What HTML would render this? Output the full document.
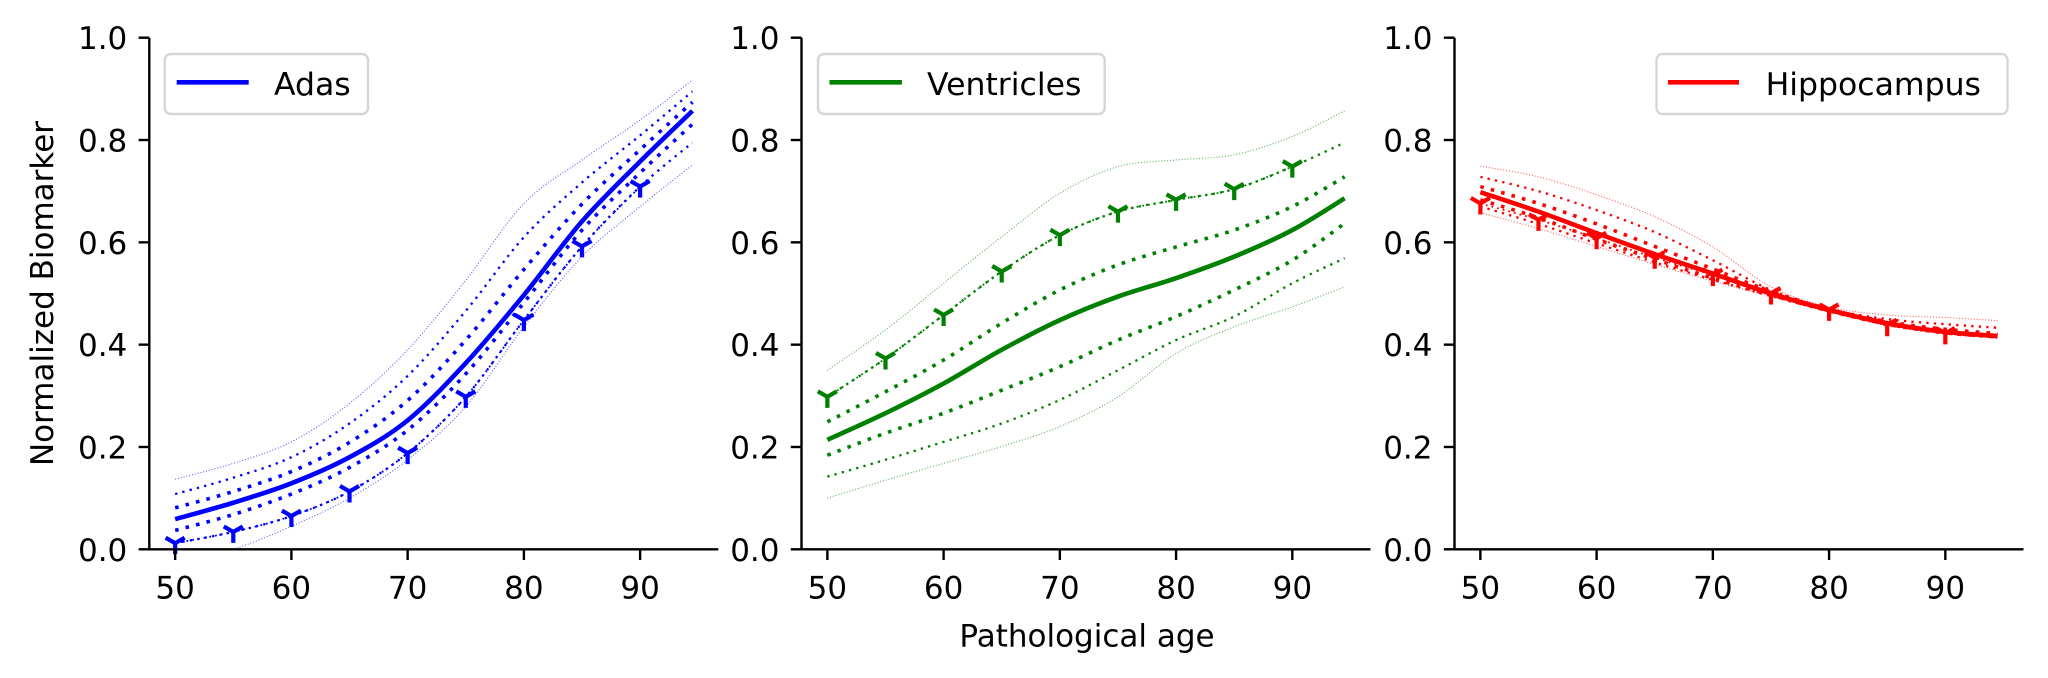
<!DOCTYPE html>
<html><head><meta charset="utf-8">
<style>
html,body{margin:0;padding:0;background:#fff;}
svg{display:block;font-family:"DejaVu Sans","Liberation Sans",sans-serif;}
</style></head>
<body>
<svg id="chart" width="2048" height="678" viewBox="0 0 2048 678" xmlns="http://www.w3.org/2000/svg">
<text x="53" y="293.5" transform="rotate(-90 53 293.5)" text-anchor="middle" font-size="31" fill="#000">Normalized Biomarker</text>
<text x="1087" y="646.5" text-anchor="middle" font-size="31" fill="#000">Pathological age</text>
</svg>
<script>
// shared x grid for curves
const xGrid = [50,55,60,65,70,75,80,85,90,94.5];
const markerX = [50,55,60,65,70,75,80,85,90];
const xTicks = [50,60,70,80,90];
const yTicks = [0.0,0.2,0.4,0.6,0.8,1.0];
const yTickLabels = ["0.0","0.2","0.4","0.6","0.8","1.0"];
const xTickLabels = ["50","60","70","80","90"];
const seriesNames = ["Adas","Ventricles","Hippocampus"];
const seriesColors = ["#0000ff","#008000","#ff0000"];

// Adas
const adasMean     = [0.059,0.091,0.129,0.180,0.252,0.364,0.497,0.641,0.758,0.857];
const adasOuterUp  = [0.137,0.168,0.210,0.285,0.390,0.526,0.676,0.761,0.839,0.917];
const adasMidUp    = [0.108,0.140,0.180,0.246,0.339,0.466,0.610,0.717,0.809,0.895];
const adasInnerUp  = [0.081,0.113,0.152,0.209,0.291,0.409,0.547,0.675,0.781,0.874];
const adasInnerLow = [0.037,0.068,0.108,0.160,0.233,0.343,0.482,0.624,0.736,0.831];
const adasMidLow   = [0.012,0.034,0.065,0.113,0.188,0.298,0.448,0.592,0.709,0.795];
const adasOuterLow = [-0.03,0.000,0.045,0.100,0.175,0.279,0.435,0.572,0.670,0.751];
const adasMarkers  = [0.012,0.034,0.065,0.113,0.188,0.298,0.448,0.592,0.709];

// Ventricles
const ventMean     = [0.214,0.266,0.324,0.390,0.448,0.494,0.530,0.572,0.624,0.686];
const ventOuterUp  = [0.350,0.429,0.520,0.611,0.696,0.748,0.761,0.771,0.807,0.857];
const ventMidUp    = [0.298,0.373,0.458,0.543,0.614,0.660,0.683,0.704,0.748,0.795];
const ventInnerUp  = [0.249,0.308,0.370,0.442,0.507,0.556,0.591,0.624,0.670,0.728];
const ventInnerLow = [0.184,0.227,0.266,0.311,0.357,0.409,0.455,0.507,0.565,0.637];
const ventMidLow   = [0.142,0.175,0.210,0.246,0.292,0.350,0.409,0.455,0.520,0.569];
const ventOuterLow = [0.100,0.135,0.168,0.201,0.240,0.298,0.383,0.435,0.474,0.513];
const ventMarkers  = [0.298,0.373,0.458,0.543,0.614,0.660,0.683,0.704,0.748];

// Hippocampus
const hippoMean     = [0.698,0.660,0.618,0.577,0.539,0.500,0.468,0.442,0.425,0.417];
const hippoOuterUp  = [0.749,0.728,0.693,0.650,0.591,0.513,0.474,0.458,0.453,0.447];
const hippoMidUp    = [0.728,0.700,0.663,0.620,0.565,0.507,0.470,0.450,0.440,0.433];
const hippoInnerUp  = [0.709,0.676,0.636,0.592,0.548,0.504,0.469,0.445,0.430,0.422];
const hippoInnerLow = [0.683,0.648,0.606,0.567,0.530,0.497,0.466,0.440,0.423,0.415];
const hippoMidLow   = [0.670,0.636,0.598,0.561,0.527,0.495,0.465,0.439,0.422,0.414];
const hippoOuterLow = [0.658,0.627,0.592,0.557,0.524,0.494,0.464,0.438,0.421,0.413];
const hippoMarkers  = [0.676,0.644,0.608,0.570,0.536,0.500,0.468,0.438,0.422];

const NS = "http://www.w3.org/2000/svg";
const svg = document.getElementById("chart");
const panelLeft = [149.3, 801.5, 1454.5];
const axW = 569, yTop = 37.7, yBot = 549.3;
const xMin = 47.775, xMax = 96.725;
const legendBoxes = [
  {x0:164.7,x1:368,l0:176.7,l1:248.7,t:274},
  {x0:818,x1:1104.7,l0:829.5,l1:901.9,t:927},
  {x0:1656.5,x1:2007.5,l0:1668,l1:1739,t:1765.6}
];
function mk(tag, attrs, parent){
  const e = document.createElementNS(NS, tag);
  for (const k in attrs) e.setAttribute(k, attrs[k]);
  (parent||svg).appendChild(e);
  return e;
}
function xScale(p, v){ return panelLeft[p] + (v - xMin) / (xMax - xMin) * axW; }
function yScale(v){ return yBot - v * (yBot - yTop); }
function pathD(p, xs, ys){
  return xs.map((x,i)=>(i?"L":"M")+xScale(p,x).toFixed(2)+","+yScale(ys[i]).toFixed(2)).join(" ");
}
function smoothD(p, xs, ys){
  const pts = xs.map((x,i)=>[xScale(p,x), yScale(ys[i])]);
  let d = "M"+pts[0][0].toFixed(2)+","+pts[0][1].toFixed(2);
  for (let i=0;i<pts.length-1;i++){
    const p0 = pts[Math.max(0,i-1)], p1 = pts[i], p2 = pts[i+1], p3 = pts[Math.min(pts.length-1,i+2)];
    const c1 = [p1[0]+(p2[0]-p0[0])/6, p1[1]+(p2[1]-p0[1])/6];
    const c2 = [p2[0]-(p3[0]-p1[0])/6, p2[1]-(p3[1]-p1[1])/6];
    d += ` C${c1[0].toFixed(2)},${c1[1].toFixed(2)} ${c2[0].toFixed(2)},${c2[1].toFixed(2)} ${p2[0].toFixed(2)},${p2[1].toFixed(2)}`;
  }
  return d;
}
const panels = [
  [adasOuterUp,adasMidUp,adasInnerUp,adasMean,adasInnerLow,adasMidLow,adasOuterLow,adasMarkers],
  [ventOuterUp,ventMidUp,ventInnerUp,ventMean,ventInnerLow,ventMidLow,ventOuterLow,ventMarkers],
  [hippoOuterUp,hippoMidUp,hippoInnerUp,hippoMean,hippoInnerLow,hippoMidLow,hippoOuterLow,hippoMarkers]
];
const styles = {
  outer:{w:1.1,dash:"1.1 1.8",op:0.6},
  mid:{w:2.3,dash:"2.3 5.2",op:1},
  inner:{w:3.6,dash:"3.6 7.2",op:1}
};
for (let p=0;p<3;p++){
  const col = seriesColors[p];
  const g = mk("g",{});
  
  
  const clip = mk("clipPath",{id:"clip"+p}, g);
  mk("rect",{x:panelLeft[p],y:yTop,width:axW,height:yBot-yTop}, clip);
  const plot = mk("g",{"clip-path":"url(#clip"+p+")"}, g);
  const [ou,mu,iu,mean,il,ml,ol,marks] = panels[p];
  const lines = [[ou,"outer","outer-upper"],[mu,"mid","mid-upper"],[iu,"inner","inner-upper"],
                 [il,"inner","inner-lower"],[ml,"mid","mid-lower"],[ol,"outer","outer-lower"]];
  for (const [arr,st,name] of lines){
    const s = styles[st];
    const e = mk("path",{d:smoothD(p,xGrid,arr),fill:"none",stroke:col,"stroke-width":s.w,"stroke-dasharray":s.dash,"stroke-linecap":"butt","stroke-opacity":s.op}, plot);
    
    
  }
  const m = mk("path",{d:smoothD(p,xGrid,mean),fill:"none",stroke:col,"stroke-width":4.6,"stroke-linejoin":"round"}, plot);
  
  
  const ml2 = mk("path",{d:smoothD(p,markerX,marks),fill:"none",stroke:col,"stroke-width":1.8,"stroke-dasharray":"1.8 4","stroke-linecap":"butt"}, plot);
  
  
  marks.forEach((v,i)=>{
    const cx = xScale(p, markerX[i]), cy = yScale(v), r = 11;
    const d = `M${cx},${cy} L${cx},${cy+r} M${cx},${cy} L${cx-0.866*r},${cy-0.5*r} M${cx},${cy} L${cx+0.866*r},${cy-0.5*r}`;
    const e = mk("path",{d:d,stroke:col,"stroke-width":4.2,fill:"none"}, g);
    
    
  });
  // axes
  const x0 = panelLeft[p];
  const ya = mk("line",{x1:x0,y1:yTop,x2:x0,y2:yBot+1.2,stroke:"#000","stroke-width":2.4}, g);
  
  
  const xa = mk("line",{x1:x0-1.2,y1:yBot,x2:x0+axW,y2:yBot,stroke:"#000","stroke-width":2.4}, g);
  
  
  yTicks.forEach((v,i)=>{
    const y = yScale(v);
    mk("line",{x1:x0-10.7,y1:y,x2:x0,y2:y,stroke:"#000","stroke-width":2.4}, g);
    const t = mk("text",{x:x0-22,y:y+11.5,"text-anchor":"end","font-size":31,fill:"#000"}, g);
    t.textContent = yTickLabels[i];
    
    
  });
  xTicks.forEach((v,i)=>{
    const x = xScale(p,v);
    mk("line",{x1:x,y1:yBot,x2:x,y2:yBot+10.7,stroke:"#000","stroke-width":2.4}, g);
    const t = mk("text",{x:x,y:598.3,"text-anchor":"middle","font-size":31,fill:"#000"}, g);
    t.textContent = xTickLabels[i];
    
    
  });
  // legend
  const L = legendBoxes[p];
  const lg = mk("g",{}, g);
  
  
  mk("rect",{x:L.x0,y:54,width:L.x1-L.x0,height:60,rx:6,fill:"#fff","fill-opacity":0.8,stroke:"#d6d6d6","stroke-width":2.4}, lg);
  mk("line",{x1:L.l0,y1:82.3,x2:L.l1,y2:82.3,stroke:col,"stroke-width":4.6}, lg);
  const lt = mk("text",{x:L.t,y:95,"font-size":31.5,fill:"#000"}, lg);
  lt.textContent = seriesNames[p];
  
  
}
</script>
</body></html>
